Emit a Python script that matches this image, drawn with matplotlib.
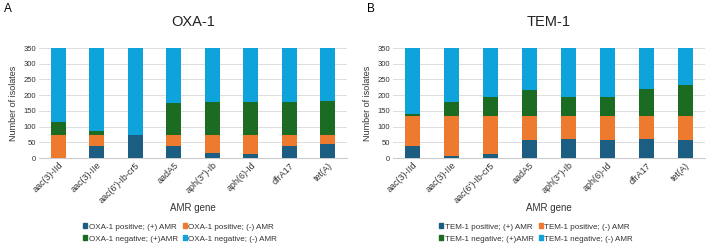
import numpy as np
import matplotlib.pyplot as plt
from matplotlib.patches import Patch

plt.rcParams['font.family'] = ['Liberation Sans', 'DejaVu Sans']

genes = ["aac(3)-IId", "aac(3)-IIe", "aac(6')-Ib-cr5", "aadA5",
         "aph(3'')-Ib", "aph(6)-Id", "dfrA17", "tet(A)"]

# OXA-1 panel (A)
oxa_pos_amr = [0, 37, 72, 37, 16, 12, 39, 45]
oxa_pos_noamr = [72, 35, 0, 35, 56, 60, 33, 27]
oxa_neg_amr = [43, 14, 0, 103, 105, 107, 107, 109]
oxa_neg_noamr = [235, 264, 278, 175, 173, 171, 171, 169]

# TEM-1 panel (B)
tem_pos_amr = [38, 7, 14, 58, 61, 58, 61, 57]
tem_pos_noamr = [97, 128, 121, 77, 74, 77, 74, 78]
tem_neg_amr = [5, 43, 59, 80, 59, 59, 83, 97]
tem_neg_noamr = [210, 172, 156, 135, 156, 156, 132, 118]

colors = ["#1b5e82", "#ee7a30", "#1c6b23", "#0ea3da"]

fig = plt.figure(figsize=(7.08, 2.47), dpi=100)
W, H = 708, 247


def panel(x0, x1, name, letter, lx, series):
    ax = fig.add_axes([x0 / W, 1 - 158 / H, (x1 - x0) / W, 110 / H])
    x = np.arange(len(genes))
    bottom = np.zeros(len(genes))
    for vals, c in zip(series, colors):
        ax.bar(x, vals, width=0.39, bottom=bottom, color=c, zorder=3)
        bottom += np.array(vals)
    ax.set_xlim(-0.5, len(genes) - 0.5)
    ax.set_ylim(0, 350)
    ax.set_yticks(range(0, 351, 50))
    ax.grid(axis="y", color="#dddddd", linewidth=0.7, zorder=0)
    for s in ["top", "right", "left"]:
        ax.spines[s].set_visible(False)
    ax.spines["bottom"].set_color("#cccccc")
    ax.tick_params(axis="y", length=0, labelsize=5.5, colors="#333333", pad=2)
    ax.tick_params(axis="x", length=0, labelsize=6.5, colors="#333333", pad=2)
    ax.set_xticks(x)
    ax.set_xticklabels(genes, rotation=45, ha="right", rotation_mode="anchor")
    ax.set_ylabel("Number of isolates", fontsize=6.5, color="#333333", labelpad=4)
    ax.set_xlabel("AMR gene", fontsize=7, color="#333333")
    ax.xaxis.set_label_coords(0.5, -0.41)
    ax.set_title(name, fontsize=10.5, color="#222222", pad=16)
    fig.text(lx / W, 1 - 9 / H, letter, fontsize=8.5, ha="left", va="center")
    labels = [name + " positive; (+) AMR", name + " positive; (-) AMR",
              name + " negative; (+)AMR", name + " negative; (-) AMR"]
    order = [0, 2, 1, 3]
    handles = [Patch(color=colors[i], label=labels[i]) for i in order]
    cx = ((x0 + x1) / 2 - 13) / W
    fig.legend(handles=handles, ncol=2, loc="center", bbox_to_anchor=(cx, 1 - 233 / H),
               fontsize=5.8, frameon=False, handlelength=0.5, handleheight=0.5,
               handletextpad=0.2, columnspacing=0.6, labelspacing=0.6,
               labelcolor="#333333")
    return ax


panel(39, 347, "OXA-1", "A", 4,
      [oxa_pos_amr, oxa_pos_noamr, oxa_neg_amr, oxa_neg_noamr])
panel(393, 705, "TEM-1", "B", 367,
      [tem_pos_amr, tem_pos_noamr, tem_neg_amr, tem_neg_noamr])

fig.savefig("out.png", dpi=100)
